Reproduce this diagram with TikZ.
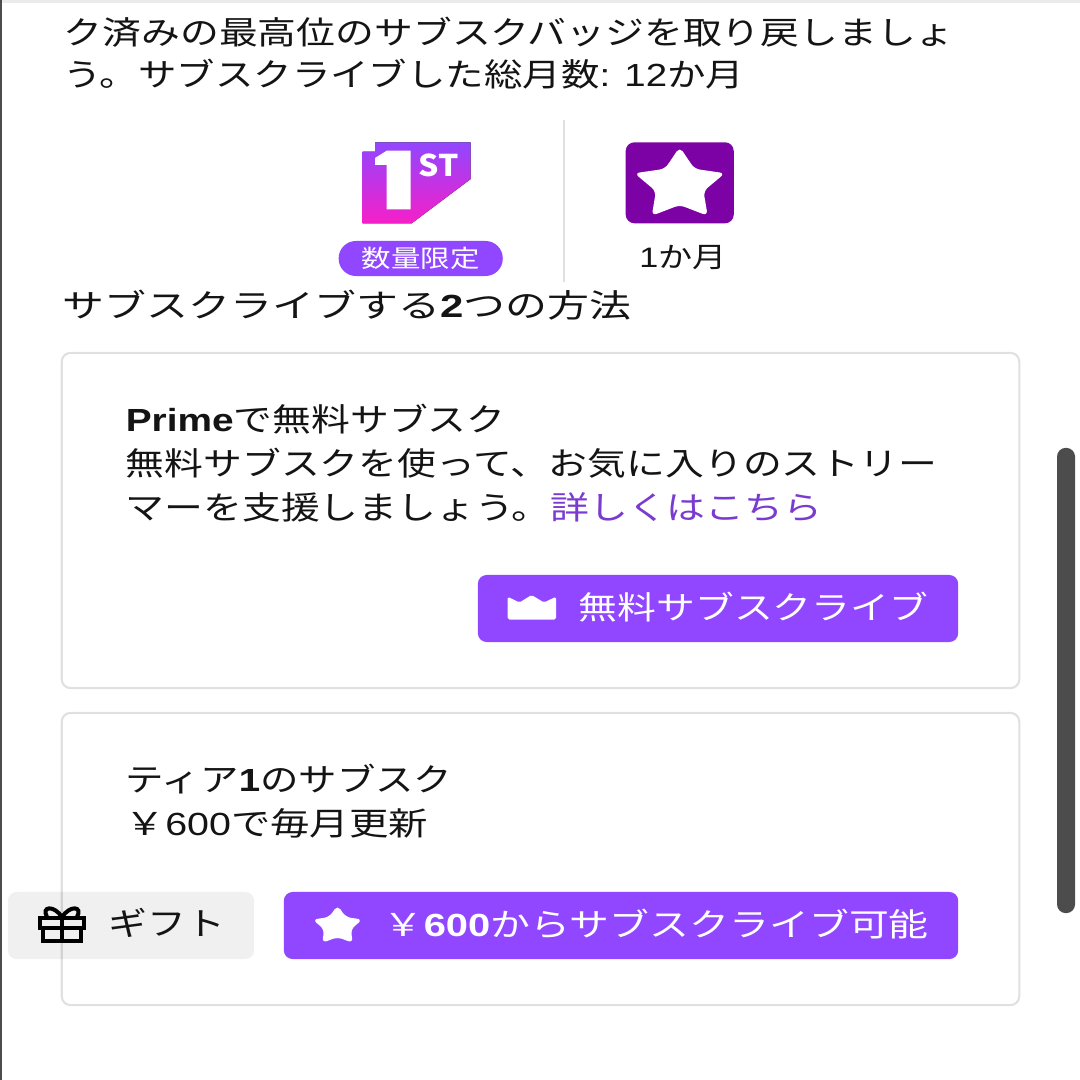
\documentclass[tikz,border=0pt]{standalone}
\usepackage{fontspec}
\setmainfont{Noto Sans CJK JP}
\newfontfamily\latinfont{Liberation Sans}
\usepackage{xcolor}
\usetikzlibrary{positioning,shapes.geometric}

\definecolor{twitchpurple}{HTML}{9147FF}
\definecolor{linkpurple}{HTML}{7A3BD0}
\definecolor{tierpurple}{HTML}{7D02A6}
\definecolor{badgepink}{HTML}{F61FC8}
\definecolor{inktext}{HTML}{141414}

\newcommand{\lat}[1]{{\latinfont #1}}
\newcommand{\latb}[1]{{\latinfont\bfseries #1}}

\tikzset{
	bodytext/.style={anchor=west,inner sep=0pt,xscale=1.213,text=inktext,font=\fontsize{9.1}{11}\selectfont},
	buttontext/.style={bodytext,text=white},
	cardbox/.style={draw=black,draw opacity=0.12,line width=0.6pt,rounded corners=2.5pt},
	buttonbox/.style={fill=twitchpurple,rounded corners=2.5pt,inner sep=0pt},
	starbox/.style={star,star points=5,star point ratio=1.9,fill=white,inner sep=0pt,rounded corners=1.5pt,xscale=1.25},
	giftline/.style={black,line width=1.15pt},
}

\begin{document}
\begin{tikzpicture}[x=0.01cm,y=-0.01cm]
	\useasboundingbox (0,0) rectangle (1080,1080);
	\fill[white] (0,0) rectangle (1080,1080);
	\fill[black!8] (0,0) rectangle (1080,3);
	\fill[black!70] (0,0) rectangle (2,1080);
	
	\node[bodytext] (intro1) at (63,32) {ク済みの最高位のサブスクバッジを取り戻しましょ};
	\node[bodytext,xscale=0.99] (intro2) at (63,74) {う。サブスクライブした総月数\lat{: 12}か月};
	
	% badges
	\draw[black!12,line width=0.8pt] (564,120)--(564,282);
	\fill[bottom color=badgepink,top color=twitchpurple] (362.7,151.7)--(375,151.7)--(375,142.3)--(470.7,142.3)--(470.7,179)--(411.7,223.3)--(362.7,223.3)--cycle;
	\fill[white] (386.7,150.7)--(410.7,150.7)--(410.7,209.3)--(386.7,209.3)--(386.7,165)--(375,165)--(375,158)--cycle;
	\node[bodytext,text=white,font=\fontsize{8.5}{10}\selectfont\bfseries,xscale=0.88,anchor=center] (st) at (439,165) {ST};
	\node[fill=twitchpurple,rounded corners=4.9pt,minimum width=1.64cm,minimum height=0.35cm,inner sep=0pt] (limited) at (420.7,258.5) {};
	\node[bodytext,anchor=center,text=white,font=\fontsize{6.9}{8}\selectfont] (limitedtext) at (limited) {数量限定};
	\node[fill=tierpurple,rounded corners=2.5pt,minimum width=1.08cm,minimum height=0.81cm,inner sep=0pt] (tier) at (679.7,182.8) {};
	\node[starbox,minimum size=0.76cm] (tierstar) at (679.7,185) {};
	\node[bodytext,anchor=center,font=\fontsize{8}{9}\selectfont] (month) at (683,258) {\lat{1}か月};
	
	\node[bodytext,xscale=1.08] (howto) at (62,305) {サブスクライブする\latb{2}つの方法};
	
	% buttons first, the card border runs over the gift button
	\node[fill=black!6,rounded corners=2.5pt,minimum width=2.46cm,minimum height=0.67cm,inner sep=0pt] (gift) at (131,925.5) {};
	\node[buttonbox,minimum width=4.8cm,minimum height=0.67cm] (primebtn) at (718,608.5) {};
	\node[buttonbox,minimum width=6.74cm,minimum height=0.67cm] (tierbtn) at (621,925.5) {};
	
	\node[cardbox,minimum width=9.57cm,minimum height=3.35cm] (primecard) at (540.5,520.5) {};
	\node[cardbox,minimum width=9.57cm,minimum height=2.92cm] (tiercard) at (540.5,859) {};
	
	\node[bodytext] (prime1) at (125,419) {\latb{Prime}で無料サブスク};
	\node[bodytext] (prime2) at (125,463) {無料サブスクを使って、お気に入りのストリー};
	\node[bodytext] (prime3) at (125,507) {マーを支援しましょう。\textcolor{linkpurple}{詳しくはこちら}};
	
	\fill[white,rounded corners=0.5pt] (507.5,596.7)--(519.5,602.5)--(531.5,595)--(544,602.5)--(556,596.7)--(556,619.5)--(507.5,619.5)--cycle;
	\node[buttontext] (primelabel) at (578,607) {無料サブスクライブ};
	
	\node[bodytext,xscale=0.99] (tier1) at (125,779) {ティア\latb{1}のサブスク};
	\node[bodytext,xscale=1.015] (tier2) at (125,823) {￥\lat{600}で毎月更新};
	
	\node[starbox,minimum size=0.42cm] (btnstar) at (337.5,926) {};
	\node[buttontext,xscale=1.027] (tierlabel) at (383,924) {￥\latb{600}からサブスクライブ可能};
	
	% gift icon
	\draw[giftline] (40,918)rectangle(84,928);
	\draw[giftline] (43,928)rectangle(81,941);
	\draw[giftline] (62,918)--(62,941);
	\draw[giftline] (62,917) .. controls (54,905) and (41,906) .. (47,917);
	\draw[giftline] (62,917) .. controls (70,905) and (83,906) .. (77,917);
	\node[bodytext] (giftlabel) at (108,923) {ギフト};
	
	% scrollbar
	\node[fill=black!70,rounded corners=2.5pt,minimum width=0.18cm,minimum height=4.65cm,inner sep=0pt] (scrollbar) at (1066,680.5) {};
\end{tikzpicture}
\end{document}
